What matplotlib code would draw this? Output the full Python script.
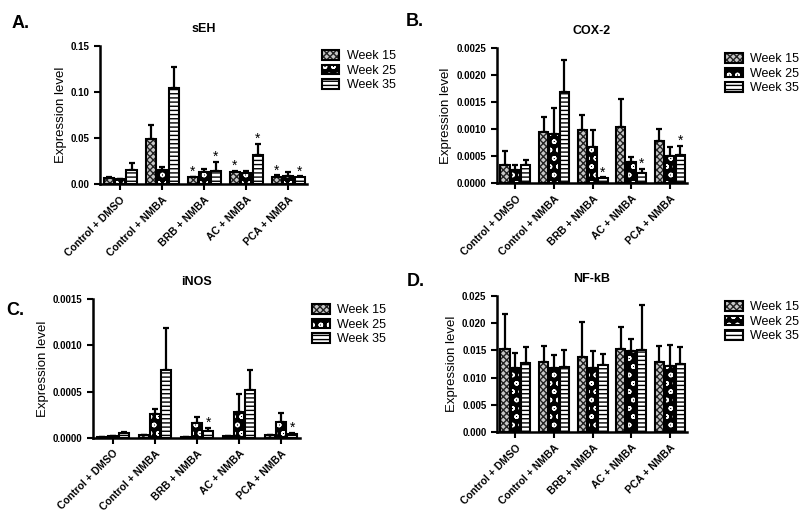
import numpy as np
import matplotlib
matplotlib.use("Agg")
import matplotlib.pyplot as plt

plt.rcParams['font.family'] = ['Liberation Sans', 'DejaVu Sans']

groups = ["Control + DMSO", "Control + NMBA", "BRB + NMBA", "AC + NMBA", "PCA + NMBA"]
weeks = ["Week 15", "Week 25", "Week 35"]

# sEH
seh_mean = [[0.0070, 0.0490, 0.0072, 0.0130, 0.0076],
            [0.0050, 0.0148, 0.0126, 0.0120, 0.0090],
            [0.0155, 0.1045, 0.0137, 0.0314, 0.0076]]
seh_err = [[0.0008, 0.0146, 0.0008, 0.0015, 0.0018],
           [0.0006, 0.0032, 0.0037, 0.0025, 0.0044],
           [0.0075, 0.0220, 0.0102, 0.0120, 0.0007]]
seh_star = [[2, 0], [2, 2], [3, 0], [3, 2], [4, 0], [4, 2]]

# COX-2
cox_mean = [[0.00033, 0.00094, 0.00099, 0.00103, 0.00077],
            [0.00024, 0.00091, 0.00066, 0.00039, 0.00050],
            [0.000325, 0.00168, 0.00009, 0.00019, 0.00052]]
cox_err = [[0.00026, 0.00028, 0.00026, 0.00053, 0.00023],
           [0.00010, 0.00047, 0.00033, 0.00010, 0.00017],
           [0.000105, 0.00059, 0.00002, 0.00007, 0.00017]]
cox_star = [[2, 2], [3, 2], [4, 2]]

# iNOS
inos_mean = [[0.00001, 0.00003, 0.00001, 0.00002, 0.00003],
             [0.00002, 0.000257, 0.000163, 0.000275, 0.000166],
             [0.00005, 0.000734, 0.000076, 0.000517, 0.000043]]
inos_err = [[0.000003, 0.000005, 0.000003, 0.000004, 0.000005],
            [0.000004, 0.000053, 0.000057, 0.000198, 0.000104],
            [0.00001, 0.000456, 0.000032, 0.000213, 0.000011]]
inos_star = [[2, 2], [4, 2]]

# NF-kB
nfkb_mean = [[0.0153, 0.0129, 0.0137, 0.0153, 0.0129],
             [0.01185, 0.01185, 0.01173, 0.01486, 0.0122],
             [0.0127, 0.0120, 0.0123, 0.01505, 0.01253]]
nfkb_err = [[0.0064, 0.0029, 0.00645, 0.0039, 0.0029],
            [0.0027, 0.00235, 0.0031, 0.0023, 0.0038],
            [0.0030, 0.0031, 0.0020, 0.0083, 0.0030]]
nfkb_star = []

# letter, title, means, errs, stars, yticks, fmt, axes box, letter position, legend anchor
panels = [
    ("A.", "sEH", seh_mean, seh_err, seh_star, [0, 0.05, 0.10, 0.15], "{:.2f}",
     [0.125, 0.646, 0.259, 0.266], (0.014, 0.947), (1.015, 1.05)),
    ("B.", "COX-2", cox_mean, cox_err, cox_star, [0, 0.0005, 0.0010, 0.0015, 0.0020, 0.0025], "{:.4f}",
     [0.621, 0.648, 0.238, 0.260], (0.507, 0.950), (1.14, 1.045)),
    ("C.", "iNOS", inos_mean, inos_err, inos_star, [0, 0.0005, 0.0010, 0.0015], "{:.4f}",
     [0.116, 0.158, 0.259, 0.267], (0.008, 0.395), (1.005, 1.045)),
    ("D.", "NF-kB", nfkb_mean, nfkb_err, nfkb_star, [0, 0.005, 0.010, 0.015, 0.020, 0.025], "{:.3f}",
     [0.621, 0.169, 0.238, 0.262], (0.508, 0.450), (1.14, 1.045)),
]

offsets = [-0.27, 0.0, 0.27]
width = 0.24
# face colour, hatch colour, hatch pattern
styles = [("#c8c8c8", "#222222", "xxxxx"),
          ("black", "white", "oo"),
          ("white", "black", "----")]

fig = plt.figure(figsize=(8, 5.2), dpi=100)

for letter, title, means, errs, stars, yticks, fmt, pos, lpos, legpos in panels:
    ax = fig.add_axes(pos)
    x = np.arange(len(groups))
    handles = []
    for k in range(3):
        fc, hc, hp = styles[k]
        xs = x + offsets[k]
        ax.errorbar(xs, means[k], yerr=[np.zeros(5), errs[k]], fmt='none',
                    ecolor='black', elinewidth=1.6, capsize=2.5, capthick=1.6, zorder=1)
        b1 = ax.bar(xs, means[k], width, color=fc, edgecolor=hc, hatch=hp, linewidth=0, zorder=2)
        b2 = ax.bar(xs, means[k], width, fill=False, edgecolor='black', linewidth=1.5, zorder=3)
        handles.append((b1[0], b2[0]))
    top = yticks[-1]
    for g, k in stars:
        ax.text(g + offsets[k], means[k][g] + errs[k][g] + top * 0.035, "*",
                ha='center', va='center', fontsize=10)
    ax.set_xlim(-0.48, 4.45)
    ax.set_ylim(0, top)
    ax.set_yticks(yticks)
    ax.set_yticklabels([fmt.format(v) for v in yticks], fontsize=7, fontweight='bold')
    ax.set_xticks(x)
    ax.set_xticklabels(groups, rotation=45, ha='right', rotation_mode='anchor',
                       fontsize=7.5, fontweight='bold')
    ax.tick_params(axis='both', direction='out', width=1.5, length=4)
    for s in ['top', 'right']:
        ax.spines[s].set_visible(False)
    for s in ['left', 'bottom']:
        ax.spines[s].set_linewidth(1.8)
    ax.set_ylabel("Expression level", fontsize=9.5, labelpad=3)
    ax.set_title(title, fontsize=9, fontweight='bold', pad=10)
    fig.text(lpos[0], lpos[1], letter, fontsize=13, fontweight='bold')
    ax.legend(handles, weeks, loc='upper left', bbox_to_anchor=legpos, frameon=False,
              fontsize=9, handlelength=1.4, handleheight=0.8, labelspacing=0.2,
              handletextpad=0.6)

fig.savefig("out.png", dpi=100)
